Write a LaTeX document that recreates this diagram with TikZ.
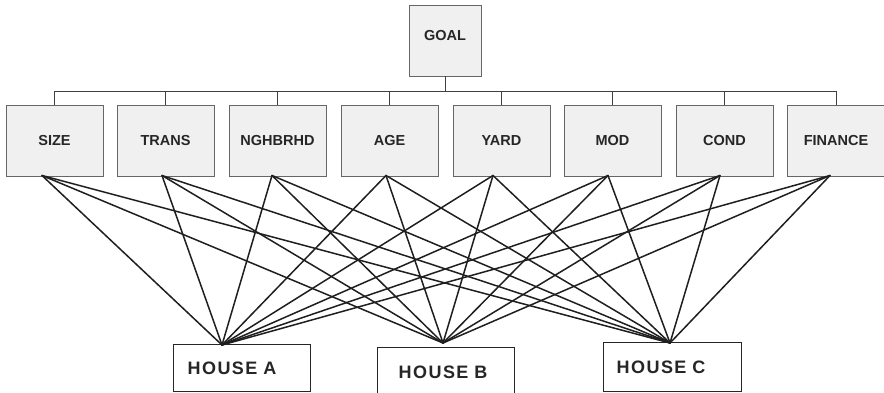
\documentclass[tikz,border=0pt]{standalone}
\usepackage{fontspec}
\setmainfont{Liberation Sans}
\newfontfamily\housefont{Liberation Sans}[LetterSpace=8]
\begin{document}
\begin{tikzpicture}[x=1pt,y=-1pt,
  crit/.style={draw=black!60, fill=black!6, line width=0.9pt, rectangle,
    minimum width=97pt, minimum height=71pt, inner sep=0pt,
    font=\fontsize{14.5}{16}\selectfont\bfseries, text=black!85},
  tree/.style={draw=black!75, line width=0.9pt},
  link/.style={draw=black!88, line width=1.5pt},
  house/.style={draw=black!85, fill=white, line width=1.4pt, rectangle,
    anchor=north west, inner ysep=0pt, align=left,
    font=\housefont\fontsize{18}{20}\selectfont\bfseries, text=black!85}]
\useasboundingbox (0,0) rectangle (884,393);
\clip (0,0) rectangle (884,393);

% goal box
\node[crit, minimum width=72pt] (goal) at (445,40.5) {};
\node[font=\fontsize{14.5}{16}\selectfont\bfseries, text=black!85] (goaltxt) at (445,36) {GOAL};

% criteria boxes
\node[crit] (c1) at (54.5,140.5) {SIZE};
\node[crit] (c2) at (165.5,140.5) {TRANS};
\node[crit] (c3) at (277.5,140.5) {NGHBRHD};
\node[crit] (c4) at (389.5,140.5) {AGE};
\node[crit] (c5) at (501.5,140.5) {YARD};
\node[crit] (c6) at (612.5,140.5) {MOD};
\node[crit] (c7) at (724.5,140.5) {COND};
\node[crit] (c8) at (836,140.5) {FINANCE};

% hierarchy tree
\coordinate (bar) at (445,91);
\draw[tree] (goal.south) -- (bar);
\draw[tree] (c1.north) |- (c8.north |- bar) -- (c8.north);
\foreach \i in {2,...,7} \draw[tree] (c\i.north) -- (c\i.north |- bar);

% houses
\node[house, text width=109pt, inner xsep=14pt, minimum height=47pt] (hA) at (173,344) {HOUSE A};
\node[house, text width=95pt, inner xsep=21pt, minimum height=50pt] (hB) at (377,347) {HOUSE B};
\node[house, text width=112pt, inner xsep=13pt, minimum height=49pt] (hC) at (603,342) {HOUSE C};

% attachment points
\coordinate (s1) at (42,175.5);
\coordinate (s2) at (162,175.5);
\coordinate (s3) at (272,175.5);
\coordinate (s4) at (386,175.5);
\coordinate (s5) at (493,175.5);
\coordinate (s6) at (608,175.5);
\coordinate (s7) at (720,175.5);
\coordinate (s8) at (830,175.5);
\coordinate (pA) at (222,345);
\coordinate (pB) at (443,343);
\coordinate (pC) at (670,343);

% every criterion linked to every house
\foreach \i in {1,...,8}
  \foreach \h in {A,B,C}
    \draw[link, line cap=round] (s\i) -- (p\h);
\end{tikzpicture}
\end{document}
